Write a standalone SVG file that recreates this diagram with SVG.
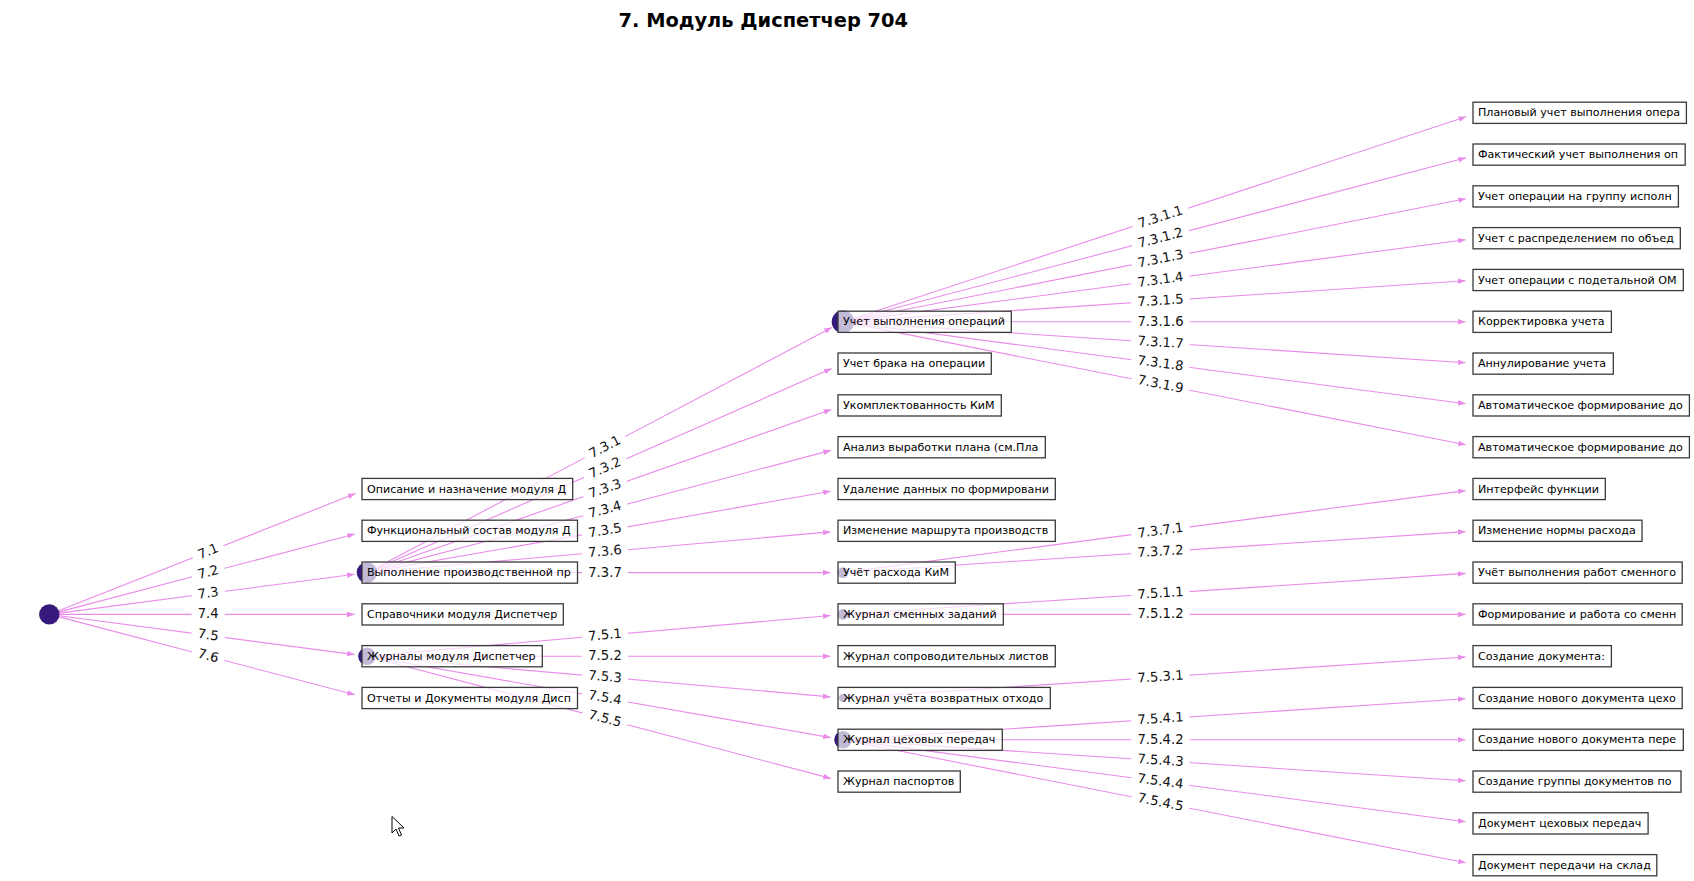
<svg xmlns="http://www.w3.org/2000/svg" width="1694" height="881" viewBox="0 0 1694 881">
<style>
.title{font-family:"DejaVu Sans","Liberation Sans",sans-serif;font-size:19.4px;font-weight:bold;fill:#000;text-anchor:middle}
.e{stroke:#e98ce9;stroke-width:1.1;fill:none;marker-end:url(#arr)}
.dot{fill:#35197b}
.box{fill:#fff;fill-opacity:0.7;stroke:#3a3a3a;stroke-width:1.3}
.nt{font-family:"DejaVu Sans","Liberation Sans",sans-serif;font-size:11.1px;fill:#000}
.lb{fill:#fff;stroke:none}
.el{font-family:"DejaVu Sans","Liberation Sans",sans-serif;font-size:13.2px;fill:#111;text-anchor:middle}
</style>
<defs>
<marker id="arr" markerUnits="userSpaceOnUse" markerWidth="8" markerHeight="6" refX="7.5" refY="2.8" orient="auto">
<path d="M0,0 L7.5,2.8 L0,5.6 Z" fill="#e98ce9"/>
</marker>
</defs>
<rect width="1694" height="881" fill="#fff"/>
<text class="title" x="763.3" y="26.5">7. Модуль Диспетчер 704</text>

<g id="connectors">
<line class="e" x1="58.6" y1="610.7" x2="355.4" y2="493.6"/>
<line class="e" x1="59.0" y1="611.9" x2="354.9" y2="534.0"/>
<line class="e" x1="59.2" y1="613.1" x2="354.6" y2="574.2"/>
<line class="e" x1="59.3" y1="614.4" x2="354.5" y2="614.4"/>
<line class="e" x1="59.2" y1="615.7" x2="354.6" y2="654.6"/>
<line class="e" x1="59.0" y1="616.9" x2="354.9" y2="694.8"/>
<line class="e" x1="375.8" y1="567.9" x2="831.9" y2="327.6"/>
<line class="e" x1="376.2" y1="568.6" x2="831.6" y2="368.6"/>
<line class="e" x1="376.4" y1="569.3" x2="831.2" y2="409.5"/>
<line class="e" x1="376.7" y1="570.1" x2="830.9" y2="450.4"/>
<line class="e" x1="376.8" y1="570.9" x2="830.7" y2="491.2"/>
<line class="e" x1="377.0" y1="571.7" x2="830.5" y2="531.9"/>
<line class="e" x1="377.0" y1="572.6" x2="830.5" y2="572.6"/>
<line class="e" x1="376.0" y1="655.4" x2="830.5" y2="615.5"/>
<line class="e" x1="376.0" y1="656.2" x2="830.5" y2="656.2"/>
<line class="e" x1="376.0" y1="657.0" x2="830.5" y2="696.9"/>
<line class="e" x1="375.9" y1="657.8" x2="830.7" y2="737.6"/>
<line class="e" x1="375.7" y1="658.5" x2="830.9" y2="778.4"/>
<line class="e" x1="853.4" y1="318.4" x2="1466.1" y2="116.7"/>
<line class="e" x1="853.6" y1="319.0" x2="1465.9" y2="157.8"/>
<line class="e" x1="853.8" y1="319.7" x2="1465.7" y2="198.8"/>
<line class="e" x1="853.9" y1="320.4" x2="1465.6" y2="239.8"/>
<line class="e" x1="854.0" y1="321.1" x2="1465.5" y2="280.8"/>
<line class="e" x1="854.0" y1="321.8" x2="1465.5" y2="321.8"/>
<line class="e" x1="854.0" y1="322.5" x2="1465.5" y2="362.8"/>
<line class="e" x1="853.9" y1="323.2" x2="1465.6" y2="403.8"/>
<line class="e" x1="853.8" y1="323.9" x2="1465.7" y2="444.8"/>
<line class="e" x1="848.5" y1="571.9" x2="1465.6" y2="490.6"/>
<line class="e" x1="848.5" y1="572.2" x2="1465.5" y2="531.6"/>
<line class="e" x1="848.5" y1="614.0" x2="1465.5" y2="573.4"/>
<line class="e" x1="848.5" y1="614.4" x2="1465.5" y2="614.4"/>
<line class="e" x1="848.0" y1="697.7" x2="1465.5" y2="657.0"/>
<line class="e" x1="851.7" y1="739.2" x2="1465.5" y2="698.8"/>
<line class="e" x1="851.7" y1="739.8" x2="1465.5" y2="739.8"/>
<line class="e" x1="851.7" y1="740.4" x2="1465.5" y2="780.8"/>
<line class="e" x1="851.6" y1="740.9" x2="1465.6" y2="821.8"/>
<line class="e" x1="851.5" y1="741.5" x2="1465.7" y2="862.8"/>
</g>

<g id="n-root"><circle class="dot" cx="49.3" cy="614.4" r="10.2"/></g>

<g id="n-7-1"><rect class="box" x="362" y="478.4" width="210.7" height="21.2"/><text class="nt" x="367" y="492.5">Описание и назначение модуля Д</text></g>
<g id="n-7-2"><rect class="box" x="362" y="520.2" width="215.5" height="21.2"/><text class="nt" x="367" y="534.3">Функциональный состав модуля Д</text></g>
<g id="n-7-3"><circle class="dot" cx="367" cy="572.6" r="10.3"/><rect class="box" x="362" y="562.0" width="215.5" height="21.2"/><text class="nt" x="367" y="576.1">Выполнение производственной пр</text></g>
<g id="n-7-4"><rect class="box" x="362" y="603.8" width="201.3" height="21.2"/><text class="nt" x="367" y="617.9">Справочники модуля Диспетчер</text></g>
<g id="n-7-5"><circle class="dot" cx="367" cy="656.2" r="8.8"/><rect class="box" x="362" y="645.6" width="180.3" height="21.2"/><text class="nt" x="367" y="659.7">Журналы модуля Диспетчер</text></g>
<g id="n-7-6"><rect class="box" x="362" y="687.4" width="215.5" height="21.2"/><text class="nt" x="367" y="701.5">Отчеты и Документы модуля Дисп</text></g>

<g id="n-7-3-1"><circle class="dot" cx="843" cy="321.8" r="11.3"/><rect class="box" x="838" y="311.2" width="173.3" height="21.2"/><text class="nt" x="843" y="325.3">Учет выполнения операций</text></g>
<g id="n-7-3-2"><rect class="box" x="838" y="353.0" width="153.3" height="21.2"/><text class="nt" x="843" y="367.1">Учет брака на операции</text></g>
<g id="n-7-3-3"><rect class="box" x="838" y="394.8" width="163.3" height="21.2"/><text class="nt" x="843" y="408.9">Укомплектованность КиМ</text></g>
<g id="n-7-3-4"><rect class="box" x="838" y="436.6" width="207.3" height="21.2"/><text class="nt" x="843" y="450.7">Анализ выработки плана (см.Пла</text></g>
<g id="n-7-3-5"><rect class="box" x="838" y="478.4" width="217.3" height="21.2"/><text class="nt" x="843" y="492.5">Удаление данных по формировани</text></g>
<g id="n-7-3-6"><rect class="box" x="838" y="520.2" width="217.3" height="21.2"/><text class="nt" x="843" y="534.3">Изменение маршрута производств</text></g>
<g id="n-7-3-7"><circle class="dot" cx="843" cy="572.6" r="5.4"/><rect class="box" x="838" y="562.0" width="117.3" height="21.2"/><text class="nt" x="843" y="576.1">Учёт расхода КиМ</text></g>
<g id="n-7-5-1"><circle class="dot" cx="843" cy="614.4" r="5.4"/><rect class="box" x="838" y="603.8" width="165.3" height="21.2"/><text class="nt" x="843" y="617.9">Журнал сменных заданий</text></g>
<g id="n-7-5-2"><rect class="box" x="838" y="645.6" width="217.3" height="21.2"/><text class="nt" x="843" y="659.7">Журнал сопроводительных листов</text></g>
<g id="n-7-5-3"><circle class="dot" cx="843" cy="698" r="4"/><rect class="box" x="838" y="687.4" width="212.3" height="21.2"/><text class="nt" x="843" y="701.5">Журнал учёта возвратных отходо</text></g>
<g id="n-7-5-4"><circle class="dot" cx="843" cy="739.8" r="8.8"/><rect class="box" x="838" y="729.2" width="164.3" height="21.2"/><text class="nt" x="843" y="743.3">Журнал цеховых передач</text></g>
<g id="n-7-5-5"><rect class="box" x="838" y="771.0" width="122.3" height="21.2"/><text class="nt" x="843" y="785.1">Журнал паспортов</text></g>

<g id="n-7-3-1-1"><rect class="box" x="1473" y="102.2" width="213.4" height="21.2"/><text class="nt" x="1478" y="116.3">Плановый учет выполнения опера</text></g>
<g id="n-7-3-1-2"><rect class="box" x="1473" y="144.0" width="212.2" height="21.2"/><text class="nt" x="1478" y="158.1">Фактический учет выполнения оп</text></g>
<g id="n-7-3-1-3"><rect class="box" x="1473" y="185.8" width="205.4" height="21.2"/><text class="nt" x="1478" y="199.9">Учет операции на группу исполн</text></g>
<g id="n-7-3-1-4"><rect class="box" x="1473" y="227.6" width="207.3" height="21.2"/><text class="nt" x="1478" y="241.7">Учет с распределением по объед</text></g>
<g id="n-7-3-1-5"><rect class="box" x="1473" y="269.4" width="210.3" height="21.2"/><text class="nt" x="1478" y="283.5">Учет операции с подетальной ОМ</text></g>
<g id="n-7-3-1-6"><rect class="box" x="1473" y="311.2" width="138.4" height="21.2"/><text class="nt" x="1478" y="325.3">Корректировка учета</text></g>
<g id="n-7-3-1-7"><rect class="box" x="1473" y="353.0" width="140.3" height="21.2"/><text class="nt" x="1478" y="367.1">Аннулирование учета</text></g>
<g id="n-7-3-1-8"><rect class="box" x="1473" y="394.8" width="216.4" height="21.2"/><text class="nt" x="1478" y="408.9">Автоматическое формирование до</text></g>
<g id="n-7-3-1-9"><rect class="box" x="1473" y="436.6" width="216.4" height="21.2"/><text class="nt" x="1478" y="450.7">Автоматическое формирование до</text></g>
<g id="n-7-3-7-1"><rect class="box" x="1473" y="478.4" width="132.3" height="21.2"/><text class="nt" x="1478" y="492.5">Интерфейс функции</text></g>
<g id="n-7-3-7-2"><rect class="box" x="1473" y="520.2" width="169" height="21.2"/><text class="nt" x="1478" y="534.3">Изменение нормы расхода</text></g>
<g id="n-7-5-1-1"><rect class="box" x="1473" y="562.0" width="209.2" height="21.2"/><text class="nt" x="1478" y="576.1">Учёт выполнения работ сменного</text></g>
<g id="n-7-5-1-2"><rect class="box" x="1473" y="603.8" width="209.2" height="21.2"/><text class="nt" x="1478" y="617.9">Формирование и работа со сменн</text></g>
<g id="n-7-5-3-1"><rect class="box" x="1473" y="645.6" width="138.4" height="21.2"/><text class="nt" x="1478" y="659.7">Создание документа:</text></g>
<g id="n-7-5-4-1"><rect class="box" x="1473" y="687.4" width="209.2" height="21.2"/><text class="nt" x="1478" y="701.5">Создание нового документа цехо</text></g>
<g id="n-7-5-4-2"><rect class="box" x="1473" y="729.2" width="210.3" height="21.2"/><text class="nt" x="1478" y="743.3">Создание нового документа пере</text></g>
<g id="n-7-5-4-3"><rect class="box" x="1473" y="771.0" width="208" height="21.2"/><text class="nt" x="1478" y="785.1">Создание группы документов по</text></g>
<g id="n-7-5-4-4"><rect class="box" x="1473" y="812.8" width="175.1" height="21.2"/><text class="nt" x="1478" y="826.9">Документ цеховых передач</text></g>
<g id="n-7-5-4-5"><rect class="box" x="1473" y="854.6" width="183.8" height="21.2"/><text class="nt" x="1478" y="868.7">Документ передачи на склад</text></g>

<g id="connector-labels">
<g transform="translate(208.2,551.7) rotate(-21.54)"><rect class="lb" x="-16.7" y="-11" width="33.4" height="22" rx="4"/><text class="el" y="3.9">7.1</text></g>
<g transform="translate(208.2,572.6) rotate(-14.74)"><rect class="lb" x="-16.7" y="-11" width="33.4" height="22" rx="4"/><text class="el" y="3.9">7.2</text></g>
<g transform="translate(208.2,593.5) rotate(-7.5)"><rect class="lb" x="-16.7" y="-11" width="33.4" height="22" rx="4"/><text class="el" y="3.9">7.3</text></g>
<g transform="translate(208.2,614.4)"><rect class="lb" x="-16.7" y="-11" width="33.4" height="22" rx="4"/><text class="el" y="3.9">7.4</text></g>
<g transform="translate(208.2,635.3) rotate(7.5)"><rect class="lb" x="-16.7" y="-11" width="33.4" height="22" rx="4"/><text class="el" y="3.9">7.5</text></g>
<g transform="translate(208.2,656.2) rotate(14.74)"><rect class="lb" x="-16.7" y="-11" width="33.4" height="22" rx="4"/><text class="el" y="3.9">7.6</text></g>

<g transform="translate(605,447.2) rotate(-27.78)"><rect class="lb" x="-23" y="-11" width="46" height="22" rx="4"/><text class="el" y="3.9">7.3.1</text></g>
<g transform="translate(605,468.1) rotate(-23.71)"><rect class="lb" x="-23" y="-11" width="46" height="22" rx="4"/><text class="el" y="3.9">7.3.2</text></g>
<g transform="translate(605,489) rotate(-19.36)"><rect class="lb" x="-23" y="-11" width="46" height="22" rx="4"/><text class="el" y="3.9">7.3.3</text></g>
<g transform="translate(605,509.9) rotate(-14.76)"><rect class="lb" x="-23" y="-11" width="46" height="22" rx="4"/><text class="el" y="3.9">7.3.4</text></g>
<g transform="translate(605,530.8) rotate(-9.96)"><rect class="lb" x="-23" y="-11" width="46" height="22" rx="4"/><text class="el" y="3.9">7.3.5</text></g>
<g transform="translate(605,551.7) rotate(-5.02)"><rect class="lb" x="-23" y="-11" width="46" height="22" rx="4"/><text class="el" y="3.9">7.3.6</text></g>
<g transform="translate(605,572.6)"><rect class="lb" x="-23" y="-11" width="46" height="22" rx="4"/><text class="el" y="3.9">7.3.7</text></g>
<g transform="translate(605,635.3) rotate(-5.02)"><rect class="lb" x="-23" y="-11" width="46" height="22" rx="4"/><text class="el" y="3.9">7.5.1</text></g>
<g transform="translate(605,656.2)"><rect class="lb" x="-23" y="-11" width="46" height="22" rx="4"/><text class="el" y="3.9">7.5.2</text></g>
<g transform="translate(605,677.1) rotate(5.02)"><rect class="lb" x="-23" y="-11" width="46" height="22" rx="4"/><text class="el" y="3.9">7.5.3</text></g>
<g transform="translate(605,698) rotate(9.96)"><rect class="lb" x="-23" y="-11" width="46" height="22" rx="4"/><text class="el" y="3.9">7.5.4</text></g>
<g transform="translate(605,718.9) rotate(14.76)"><rect class="lb" x="-23" y="-11" width="46" height="22" rx="4"/><text class="el" y="3.9">7.5.5</text></g>

<g transform="translate(1160.5,217.3) rotate(-18.22)"><rect class="lb" x="-29.3" y="-11" width="58.6" height="22" rx="4"/><text class="el" y="3.9">7.3.1.1</text></g>
<g transform="translate(1160.5,238.2) rotate(-14.75)"><rect class="lb" x="-29.3" y="-11" width="58.6" height="22" rx="4"/><text class="el" y="3.9">7.3.1.2</text></g>
<g transform="translate(1160.5,259.1) rotate(-11.17)"><rect class="lb" x="-29.3" y="-11" width="58.6" height="22" rx="4"/><text class="el" y="3.9">7.3.1.3</text></g>
<g transform="translate(1160.5,280) rotate(-7.5)"><rect class="lb" x="-29.3" y="-11" width="58.6" height="22" rx="4"/><text class="el" y="3.9">7.3.1.4</text></g>
<g transform="translate(1160.5,300.9) rotate(-3.77)"><rect class="lb" x="-29.3" y="-11" width="58.6" height="22" rx="4"/><text class="el" y="3.9">7.3.1.5</text></g>
<g transform="translate(1160.5,321.8)"><rect class="lb" x="-29.3" y="-11" width="58.6" height="22" rx="4"/><text class="el" y="3.9">7.3.1.6</text></g>
<g transform="translate(1160.5,342.7) rotate(3.77)"><rect class="lb" x="-29.3" y="-11" width="58.6" height="22" rx="4"/><text class="el" y="3.9">7.3.1.7</text></g>
<g transform="translate(1160.5,363.6) rotate(7.5)"><rect class="lb" x="-29.3" y="-11" width="58.6" height="22" rx="4"/><text class="el" y="3.9">7.3.1.8</text></g>
<g transform="translate(1160.5,384.5) rotate(11.17)"><rect class="lb" x="-29.3" y="-11" width="58.6" height="22" rx="4"/><text class="el" y="3.9">7.3.1.9</text></g>
<g transform="translate(1160.5,530.8) rotate(-7.5)"><rect class="lb" x="-29.3" y="-11" width="58.6" height="22" rx="4"/><text class="el" y="3.9">7.3.7.1</text></g>
<g transform="translate(1160.5,551.7) rotate(-3.77)"><rect class="lb" x="-29.3" y="-11" width="58.6" height="22" rx="4"/><text class="el" y="3.9">7.3.7.2</text></g>
<g transform="translate(1160.5,593.5) rotate(-3.77)"><rect class="lb" x="-29.3" y="-11" width="58.6" height="22" rx="4"/><text class="el" y="3.9">7.5.1.1</text></g>
<g transform="translate(1160.5,614.4)"><rect class="lb" x="-29.3" y="-11" width="58.6" height="22" rx="4"/><text class="el" y="3.9">7.5.1.2</text></g>
<g transform="translate(1160.5,677.1) rotate(-3.77)"><rect class="lb" x="-29.3" y="-11" width="58.6" height="22" rx="4"/><text class="el" y="3.9">7.5.3.1</text></g>
<g transform="translate(1160.5,718.9) rotate(-3.77)"><rect class="lb" x="-29.3" y="-11" width="58.6" height="22" rx="4"/><text class="el" y="3.9">7.5.4.1</text></g>
<g transform="translate(1160.5,739.8)"><rect class="lb" x="-29.3" y="-11" width="58.6" height="22" rx="4"/><text class="el" y="3.9">7.5.4.2</text></g>
<g transform="translate(1160.5,760.7) rotate(3.77)"><rect class="lb" x="-29.3" y="-11" width="58.6" height="22" rx="4"/><text class="el" y="3.9">7.5.4.3</text></g>
<g transform="translate(1160.5,781.6) rotate(7.5)"><rect class="lb" x="-29.3" y="-11" width="58.6" height="22" rx="4"/><text class="el" y="3.9">7.5.4.4</text></g>
<g transform="translate(1160.5,802.5) rotate(11.17)"><rect class="lb" x="-29.3" y="-11" width="58.6" height="22" rx="4"/><text class="el" y="3.9">7.5.4.5</text></g>
</g>

<path d="M392,816.5 L392,833 L396,829 L399,836 L401.5,835 L398.5,828 L404,828 Z" fill="#fff" stroke="#000" stroke-width="1"/>
</svg>
